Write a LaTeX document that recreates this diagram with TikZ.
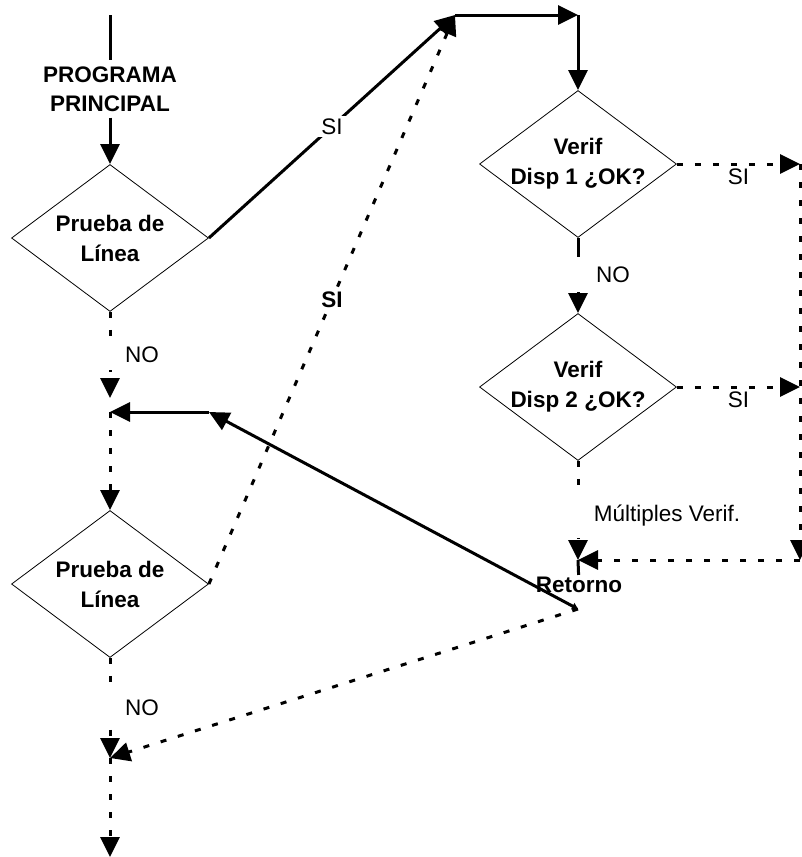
\documentclass[tikz,border=0pt]{standalone}
\usepackage{fontspec}
\setmainfont{Liberation Sans}
\usetikzlibrary{shapes.geometric,arrows.meta}

\begin{document}
\begin{tikzpicture}[x=1pt, y=-1pt, >={Triangle[length=20pt,width=19pt]},
  every node/.style={font=\fontsize{22.5}{30}\selectfont, align=center},
  decision/.style={draw, diamond, line width=0.8pt, shape aspect=1.34, inner sep=-6pt, minimum width=197pt, minimum height=147pt, font=\fontsize{22.5}{30}\selectfont\bfseries},
  flow/.style={line width=3pt, ->},
  plain/.style={line width=3pt},
  dots/.style={line width=3pt, dash pattern=on 6pt off 12pt, ->},
  gap/.style={fill=white, inner sep=3pt}]
\useasboundingbox (0,0) rectangle (802,857);

% left column
\coordinate (start) at (110,15);
\node[font=\fontsize{22.5}{29}\selectfont\bfseries, inner sep=6pt] (prog) at (110,89) {PROGRAMA\\PRINCIPAL};
\node[decision] (prueba1) at (110,238) {Prueba de\\Línea};
\coordinate (merge1) at (110,412);
\coordinate (elbow) at (209,412);
\node[decision] (prueba2) at (110,584) {Prueba de\\Línea};
\coordinate (merge2) at (110,758);
\coordinate (exit) at (110,857);

% right column
\coordinate (joint) at (455,15);
\coordinate (corner) at (578,15);
\node[decision] (verif1) at (578,164) {Verif\\Disp 1 ¿OK?};
\node[decision] (verif2) at (578,387) {Verif\\Disp 2 ¿OK?};
\coordinate (ok1) at (800,164);
\coordinate (ok2) at (800,387);
\coordinate (okend) at (800,560);
\coordinate (ret) at (578,560);
\node[font=\fontsize{22.5}{30}\selectfont\bfseries, inner sep=2pt] (retorno) at (579,585) {Retorno};
\coordinate (retfoot) at (578,609);

% connectors
\draw[plain] (start) -- (prog);
\draw[flow] (prog) -- (prueba1);
\draw[flow] (prueba1.east) -- node[gap, pos=0.5] {SI} (joint);
\draw[dots] (prueba2.east) -- node[gap, pos=0.5, font=\fontsize{22.5}{30}\selectfont\bfseries] {SI} (joint);
\draw[flow] (joint) -- (corner);
\draw[flow] (corner) -- (verif1);
\draw[dots] (verif1.east) -- node[gap, yshift=-13pt] {SI} (ok1);
\draw[flow] (verif1) -- node[gap, pos=0.49, xshift=35pt, minimum width=80pt, minimum height=35pt] {NO} (verif2);
\draw[dots] (verif2.east) -- node[gap, yshift=-13pt] {SI} (ok2);
\draw[dots] (ok1) -- (okend);
\draw[dots] (okend) -- (ret);
\draw[dots] (verif2) -- node[gap, pos=0.55, xshift=89pt, minimum width=190pt, minimum height=46pt] {Múltiples Verif.} (ret);
\draw[plain] (ret) -- (retorno);
\draw[line width=3pt, {Triangle[length=6pt,width=7pt]}->] (retfoot) -- (elbow);
\draw[flow] (elbow) -- (merge1);
\draw[dots, shorten >=14pt] (prueba1) -- node[gap, pos=0.43, xshift=32pt, minimum width=74pt, minimum height=30pt] {NO} (merge1);
\draw[dots] (merge1) -- (prueba2);
\draw[dots] (prueba2) -- node[gap, pos=0.5, xshift=32pt, minimum width=74pt, minimum height=30pt] {NO} (merge2);
\draw[dots] (retfoot) -- (merge2);
\draw[dots] (merge2) -- (exit);
\end{tikzpicture}
\end{document}
